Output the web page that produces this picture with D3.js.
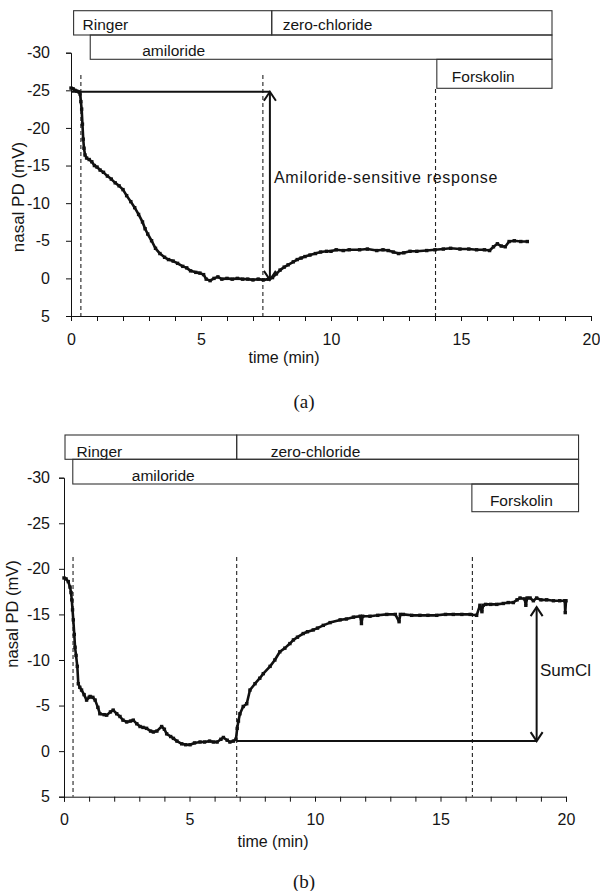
<!DOCTYPE html>
<html><head><meta charset="utf-8">
<script src="https://cdn.jsdelivr.net/npm/d3@7"></script>
<style>
body{margin:0;background:#fff}
svg{display:block}
text{font-family:"Liberation Sans",Arial,sans-serif;fill:#151515}
</style>
</head><body>
<svg id="c" width="600" height="891"></svg>
<script>
// ---------------- DATA ----------------
const timeA = [0.00,0.08,0.15,0.22,0.30,0.35,0.38,0.41,0.44,0.47,0.50,0.54,0.60,0.70,0.80,0.90,1.00,1.12,1.25,1.40,1.55,1.70,1.85,2.00,2.14,2.30,2.45,2.60,2.75,2.85,2.95,3.10,3.25,3.42,3.60,3.75,3.93,4.10,4.30,4.45,4.60,4.80,4.96,5.10,5.20,5.35,5.50,5.65,5.80,6.00,6.20,6.40,6.60,6.80,7.00,7.20,7.40,7.60,7.75,7.90,8.04,8.20,8.35,8.55,8.70,8.85,9.00,9.19,9.40,9.60,9.83,10.00,10.20,10.47,10.70,11.10,11.40,11.76,12.00,12.20,12.40,12.60,12.80,13.04,13.30,13.68,14.00,14.32,14.60,14.96,15.30,15.60,15.90,16.10,16.25,16.40,16.55,16.70,16.85,17.05,17.30,17.55];
const pdA   = [-25.3,-25.2,-25.0,-24.9,-24.8,-24.5,-23.5,-22.5,-20.5,-18.5,-17.3,-16.4,-16.0,-15.8,-15.5,-15.0,-14.8,-14.4,-14.1,-13.6,-13.2,-12.7,-12.3,-11.8,-11.0,-10.2,-9.4,-8.5,-7.5,-6.6,-5.9,-5.0,-4.0,-3.3,-2.8,-2.5,-2.3,-2.0,-1.6,-1.4,-1.0,-0.8,-0.7,-0.5,0.1,0.3,0.0,-0.2,0.1,0.0,0.1,0.0,0.1,0.1,0.2,0.1,0.2,0.1,-0.1,-0.6,-1.1,-1.5,-1.8,-2.2,-2.5,-2.7,-2.9,-3.1,-3.3,-3.5,-3.6,-3.6,-3.8,-3.7,-3.8,-3.8,-3.9,-3.7,-3.8,-3.7,-3.5,-3.3,-3.4,-3.6,-3.6,-3.7,-3.8,-3.9,-4.0,-3.9,-3.9,-3.8,-3.8,-3.7,-4.2,-4.6,-4.3,-4.2,-4.9,-5.0,-4.9,-4.9];

const timeB = [0.00,0.08,0.17,0.24,0.28,0.31,0.34,0.37,0.41,0.44,0.48,0.53,0.57,0.63,0.70,0.80,0.90,1.00,1.04,1.15,1.24,1.35,1.43,1.60,1.70,1.85,1.96,2.10,2.23,2.35,2.50,2.65,2.76,2.90,3.03,3.15,3.29,3.45,3.56,3.70,3.89,4.00,4.09,4.25,4.36,4.50,4.69,4.85,5.02,5.20,5.42,5.60,5.80,5.95,6.10,6.25,6.35,6.50,6.61,6.75,6.85,6.90,6.95,7.01,7.14,7.28,7.41,7.61,7.80,7.94,8.21,8.40,8.60,8.80,9.00,9.14,9.30,9.53,9.70,9.93,10.10,10.33,10.60,11.00,11.25,11.53,11.80,11.85,11.90,12.19,12.50,12.86,13.20,13.35,13.40,13.52,13.85,14.18,14.50,14.85,15.20,15.51,15.85,16.18,16.44,16.57,16.65,16.70,16.80,17.00,17.24,17.50,17.70,17.90,18.05,18.17,18.35,18.40,18.45,18.57,18.70,18.83,19.00,19.23,19.50,19.75,19.95,19.97,20.00];
const pdB   = [-19.0,-18.9,-18.6,-18.0,-17.4,-16.6,-15.5,-14.4,-12.8,-11.4,-10.5,-9.3,-7.4,-7.0,-6.7,-6.2,-5.6,-5.9,-6.0,-5.9,-5.6,-4.8,-4.1,-4.0,-3.95,-4.3,-4.5,-4.1,-3.8,-3.4,-3.2,-3.3,-3.4,-3.0,-2.7,-2.6,-2.5,-2.2,-2.1,-2.2,-2.7,-2.4,-1.9,-1.6,-1.4,-1.1,-0.8,-0.7,-0.7,-0.9,-1.0,-1.0,-1.1,-1.0,-1.0,-1.3,-1.5,-1.2,-1.0,-1.1,-1.3,-2.5,-3.3,-4.1,-4.9,-5.2,-6.7,-7.4,-8.0,-8.5,-9.3,-10.0,-10.9,-11.3,-11.8,-12.2,-12.5,-12.9,-13.1,-13.3,-13.5,-13.8,-14.1,-14.4,-14.5,-14.7,-14.8,-14.0,-14.8,-14.8,-14.9,-15.0,-15.0,-14.2,-15.0,-15.0,-14.9,-14.9,-14.9,-14.9,-15.0,-15.0,-15.0,-15.0,-14.9,-16.0,-15.3,-16.0,-16.1,-16.1,-16.1,-16.2,-16.3,-16.3,-16.6,-16.8,-16.7,-16.0,-16.8,-16.8,-16.5,-16.8,-16.6,-16.6,-16.5,-16.5,-16.5,-15.2,-16.5];

const xTickValues = d3.range(0, 21);          // minutes
const xLabelValues = [0, 5, 10, 15, 20];
const yTickValues = [-30, -25, -20, -15, -10, -5, 0, 5];
const boxLabels = ["Ringer", "zero-chloride", "amiloride", "Forskolin"];
const boxSpansA = [[0.1, 7.72], [7.72, 18.5], [0.74, 18.5], [14.07, 18.5]];
const boxSpansB = [[0.04, 6.88], [6.88, 20.5], [0.35, 20.5], [16.25, 20.5]];
const eventTimesA = [0.38, 7.38, 14.02];
const eventTimesB = [0.36, 6.88, 16.27];
const arrowA = {t: 7.65, from: -24.8, to: 0.2, lineStart: 0, label: "Amiloride-sensitive response"};
const arrowB = {t: 18.83, from: -1.1, to: -15.8, lineStart: 6.88, label: "SumCl"};
const axisTitles = {x: "time (min)", y: "nasal PD (mV)"};
const captions = ["(a)", "(b)"];

// ---------------- LAYOUT ----------------
const panels = [
  {time: timeA, pd: pdA, spans: boxSpansA, events: eventTimesA, arrow: arrowA, caption: captions[0],
   left: 71, right: 591, top: 52.7, bottom: 316,
   rows: [10.7, 35, 59.3, 88.3], boxRow: [0, 0, 1, 2],
   textDx: [9, 11, 52, 15], textY: [29.5, 29.5, 56, 81.5],
   dashTop: [75, 75, 89], yLabelGap: 21, xLabelDy: 29,
   yTitle: {x: 24, y: 197, size: 17}, xTitle: {x: 284, y: 363},
   capPos: {x: 304, y: 408},
   arrowText: {x: 274, y: 182.7, size: 16, ls: 0.7}},
  {time: timeB, pd: pdB, spans: boxSpansB, events: eventTimesB, arrow: arrowB, caption: captions[1],
   left: 64, right: 566, top: 477.7, bottom: 796.7,
   rows: [435, 459.3, 484, 511.7], boxRow: [0, 0, 1, 2],
   textDx: [11.6, 34, 59, 18], textY: [456.5, 456.5, 481, 506],
   dashTop: [557, 557, 557], yLabelGap: 14, xLabelDy: 28.5,
   yTitle: {x: 18, y: 614, size: 16.5}, xTitle: {x: 273, y: 847},
   capPos: {x: 304, y: 888},
   arrowText: {x: 540, y: 676, size: 17, ls: 0}}
];

const svg = d3.select("#c");

function chevron(g, x, y, dir) {
  g.append("path")
    .attr("d", `M${x-6},${y - dir*9} L${x},${y} L${x+6},${y - dir*9}`)
    .attr("fill", "none").attr("stroke", "#111").attr("stroke-width", 2);
}

panels.forEach(p => {
  const g = svg.append("g");
  const x = d3.scaleLinear().domain([0, 20]).range([p.left, p.right]);
  const y = d3.scaleLinear().domain([-30, 5]).range([p.top, p.bottom]);

  // treatment boxes
  p.spans.forEach((s, i) => {
    const r = p.boxRow[i];
    const top = p.rows[r];
    const bot = p.rows[r + 1];
    g.append("rect")
      .attr("x", x(s[0])).attr("y", top)
      .attr("width", x(s[1]) - x(s[0])).attr("height", bot - top)
      .attr("fill", "none").attr("stroke", "#333").attr("stroke-width", 1.1);
    g.append("text")
      .attr("x", x(s[0]) + p.textDx[i]).attr("y", p.textY[i])
      .attr("font-size", 15.5).text(boxLabels[i]);
  });

  // event dashed lines
  p.events.forEach((t, i) => {
    g.append("line")
      .attr("x1", x(t)).attr("x2", x(t))
      .attr("y1", p.dashTop[i]).attr("y2", p.bottom)
      .attr("stroke", "#222").attr("stroke-width", 1.1)
      .attr("stroke-dasharray", "4,3");
  });

  // axes
  const xAxis = d3.axisBottom(x).tickValues(xTickValues).tickSizeOuter(0).tickSize(5)
    .tickFormat(d => xLabelValues.includes(d) ? d : "");
  const gx = g.append("g").attr("transform", `translate(0,${p.bottom})`).call(xAxis);
  gx.selectAll("text").attr("font-size", 16).attr("dy", null).attr("y", p.xLabelDy)
    .attr("font-family", '"Liberation Sans",Arial,sans-serif').attr("fill", "#151515");
  gx.select(".domain").attr("stroke", "#111");
  gx.selectAll(".tick line").attr("stroke", "#111");

  const yAxis = d3.axisLeft(y).tickValues(yTickValues).tickSizeOuter(0).tickSize(5)
    .tickPadding(p.yLabelGap - 5).tickFormat(d => d);
  const gy = g.append("g").attr("transform", `translate(${p.left},0)`).call(yAxis);
  gy.selectAll("text").attr("font-size", 16)
    .attr("font-family", '"Liberation Sans",Arial,sans-serif').attr("fill", "#151515");
  gy.select(".domain").attr("stroke", "#111");
  gy.selectAll(".tick line").attr("stroke", "#111");

  // axis titles
  g.append("text")
    .attr("transform", `translate(${p.yTitle.x},${p.yTitle.y}) rotate(-90)`)
    .attr("text-anchor", "middle").attr("font-size", p.yTitle.size).text(axisTitles.y);
  g.append("text")
    .attr("x", p.xTitle.x).attr("y", p.xTitle.y)
    .attr("text-anchor", "middle").attr("font-size", 16).text(axisTitles.x);

  // caption
  g.append("text")
    .attr("x", p.capPos.x).attr("y", p.capPos.y)
    .attr("text-anchor", "middle").attr("font-size", 19)
    .style("font-family", '"Liberation Serif","Times New Roman",serif').text(p.caption);

  // annotation arrow
  const a = p.arrow;
  g.append("line")
    .attr("x1", x(a.lineStart)).attr("x2", x(a.t))
    .attr("y1", y(a.from)).attr("y2", y(a.from))
    .attr("stroke", "#111").attr("stroke-width", 2);
  g.append("line")
    .attr("x1", x(a.t)).attr("x2", x(a.t))
    .attr("y1", y(a.from)).attr("y2", y(a.to))
    .attr("stroke", "#111").attr("stroke-width", 2);
  chevron(g, x(a.t), Math.min(y(a.from), y(a.to)), -1);
  chevron(g, x(a.t), Math.max(y(a.from), y(a.to)), 1);
  g.append("text")
    .attr("x", p.arrowText.x).attr("y", p.arrowText.y)
    .attr("font-size", p.arrowText.size)
    .attr("letter-spacing", p.arrowText.ls)
    .text(a.label);

  // trace
  const pts = p.time.map((t, i) => [t, p.pd[i]]);
  const line = d3.line().x(d => x(d[0])).y(d => y(d[1]));
  g.append("path").attr("d", line(pts))
    .attr("fill", "none").attr("stroke", "#111").attr("stroke-width", 2.6)
    .attr("stroke-linejoin", "round");
  g.selectAll("rect.pt").data(pts).enter().append("rect")
    .attr("class", "pt")
    .attr("x", d => x(d[0]) - 1.7).attr("y", d => y(d[1]) - 1.7)
    .attr("width", 3.4).attr("height", 3.4).attr("fill", "#111");
});
</script>
</body></html>
